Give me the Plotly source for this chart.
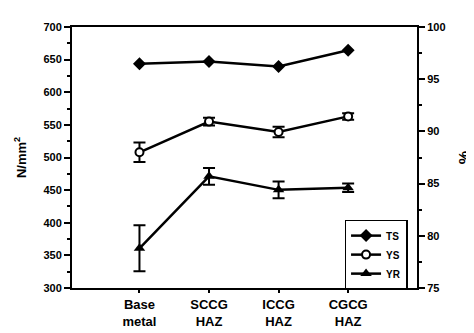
import plotly.graph_objects as go

categories = ["Base<br>metal", "SCCG<br>HAZ", "ICCG<br>HAZ", "CGCG<br>HAZ"]
positions = [0, 1, 2, 3]
ts_values = [643.5, 647, 639.5, 664.5]
ys_values = [508, 555, 539, 563]
ys_err = [15, 6, 8, 5]
yr_values = [78.8, 85.7, 84.4, 84.6]
yr_err = [2.2, 0.8, 0.8, 0.4]

FONT = "Liberation Sans"
fig = go.Figure()

fig.add_trace(go.Scatter(
    x=positions, y=ts_values, name="TS", mode="lines+markers",
    line=dict(color="black", width=2.5),
    marker=dict(symbol="diamond", size=10, color="black"),
))
fig.add_trace(go.Scatter(
    x=positions, y=ys_values, name="YS", mode="lines+markers",
    line=dict(color="black", width=2.5),
    marker=dict(symbol="circle", size=8, color="white", line=dict(color="black", width=2)),
    error_y=dict(type="data", array=ys_err, color="black", thickness=2, width=6),
))
fig.add_trace(go.Scatter(
    x=positions, y=yr_values, name="YR", mode="lines+markers", yaxis="y2",
    line=dict(color="black", width=2.5),
    marker=dict(symbol="triangle-up", size=10, color="black"),
    error_y=dict(type="data", array=yr_err, color="black", thickness=2, width=6),
))

fig.update_layout(
    width=474, height=333,
    margin=dict(l=62, r=51, t=19, b=47),
    paper_bgcolor="white", plot_bgcolor="white",
    font=dict(family=FONT, size=11, color="black", weight="bold"),
    showlegend=True,
    legend=dict(
        x=0.79, y=0.262, xanchor="left", yanchor="top",
        bordercolor="black", borderwidth=1.5, bgcolor="white",
        font=dict(size=10, weight="bold"), itemwidth=30,
        tracegroupgap=0, traceorder="normal",
    ),
    xaxis=dict(
        range=[-0.97, 3.99], tickmode="array", tickvals=positions, ticktext=categories,
        showgrid=False, zeroline=False, showline=True, linecolor="black", linewidth=2,
        mirror=True, ticks="outside", ticklen=3, tickwidth=1.5, tickcolor="black",
        tickfont=dict(size=13, weight="bold"),
    ),
    yaxis=dict(
        range=[300, 700], tickmode="linear", tick0=300, dtick=50,
        showgrid=False, zeroline=False, showline=True, linecolor="black", linewidth=2,
        ticks="outside", ticklen=6, tickwidth=1.5, tickcolor="black",
        minor=dict(dtick=25, ticks="outside", ticklen=3, tickcolor="black", tickwidth=1.5),
        title=dict(text="N/mm<sup>2</sup>", font=dict(size=13, weight="bold"), standoff=14),
        tickfont=dict(size=11, weight="bold"),
    ),
    yaxis2=dict(
        range=[75, 100], tickmode="linear", tick0=75, dtick=5,
        overlaying="y", side="right",
        showgrid=False, zeroline=False, showline=True, linecolor="black", linewidth=2,
        ticks="outside", ticklen=6, tickwidth=1.5, tickcolor="black",
        minor=dict(dtick=2.5, ticks="outside", ticklen=3, tickcolor="black", tickwidth=1.5),
        title=dict(text="%", font=dict(size=15, weight="bold"), standoff=14),
        tickfont=dict(size=11, weight="bold"),
    ),
)

fig.write_html("out.html")
